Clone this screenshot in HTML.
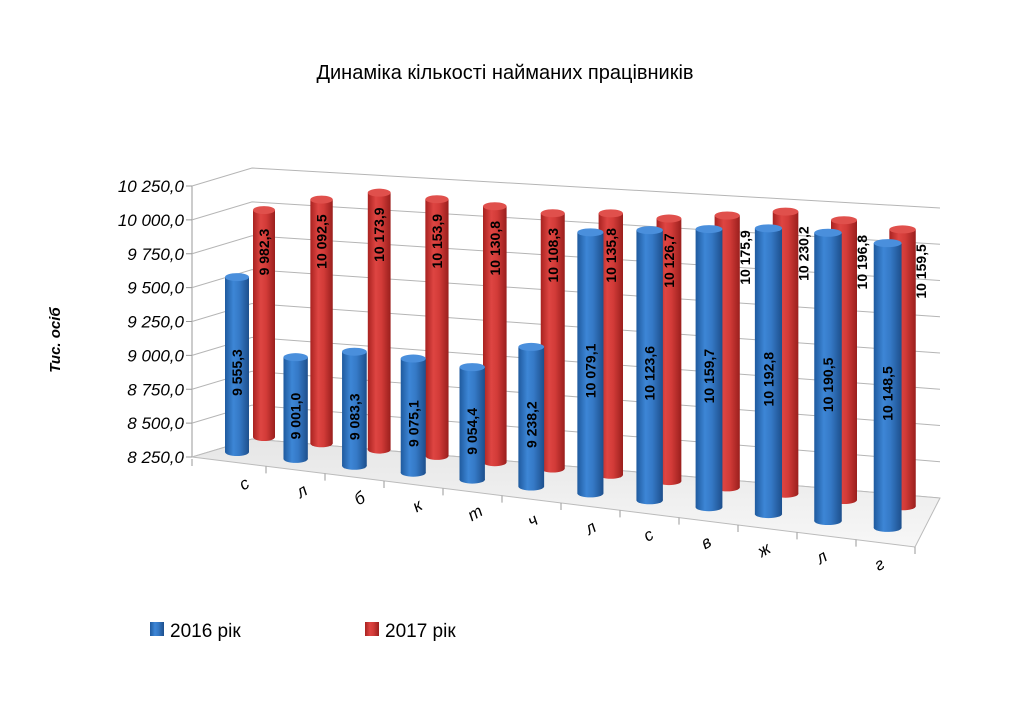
<!DOCTYPE html>
<html><head><meta charset="utf-8">
<style>
html,body{margin:0;padding:0;background:#fff;}
svg{display:block;}
text{font-family:"Liberation Sans",sans-serif;}
</style></head>
<body>
<svg id="chart" width="1024" height="709" viewBox="0 0 1024 709" xmlns="http://www.w3.org/2000/svg">
<defs>
 <linearGradient id="gBlue" x1="0" x2="1" y1="0" y2="0">
  <stop offset="0" stop-color="#1f5a9e"/><stop offset="0.35" stop-color="#3d86d6"/><stop offset="0.6" stop-color="#3579c6"/><stop offset="1" stop-color="#1d4f8c"/>
 </linearGradient>
 <linearGradient id="gRed" x1="0" x2="1" y1="0" y2="0">
  <stop offset="0" stop-color="#a82220"/><stop offset="0.35" stop-color="#de4542"/><stop offset="0.6" stop-color="#d23b38"/><stop offset="1" stop-color="#9a1f1d"/>
 </linearGradient>
 <linearGradient id="gFloor" x1="0" x2="0" y1="0" y2="1">
  <stop offset="0" stop-color="#e6e6e6"/><stop offset="1" stop-color="#f7f7f7"/>
 </linearGradient>
</defs>
<text x="505" y="79" font-size="20" text-anchor="middle" fill="#000">Динаміка кількості найманих працівників</text>
<text transform="translate(60,340) rotate(-90)" font-size="15" font-weight="bold" font-style="italic" text-anchor="middle">Тис. осіб</text>
<g id="grid"></g>
<g id="floor"></g>
<g id="bars"></g>
<g id="xlabels"></g>
<g>
 <g>
  <rect x="150" y="622" width="14" height="14" fill="url(#gBlue)"/>
  <text x="170" y="637" font-size="19" fill="#000">2016 рік</text>
 </g>
 <g>
  <rect x="365" y="622" width="14" height="14" fill="url(#gRed)"/>
  <text x="385" y="637" font-size="19" fill="#000">2017 рік</text>
 </g>
</g>
</svg>
<script>
const categories = ["с","л","б","к","т","ч","л","с","в","ж","л","г"];
const values2016 = [9555.3,9001.0,9083.3,9075.1,9054.4,9238.2,10079.1,10123.6,10159.7,10192.8,10190.5,10148.5];
const values2017 = [9982.3,10092.5,10173.9,10153.9,10130.8,10108.3,10135.8,10126.7,10175.9,10230.2,10196.8,10159.5];
const yTicks = [8250,8500,8750,9000,9250,9500,9750,10000,10250];

const NS = "http://www.w3.org/2000/svg";
const yMin = 8250;
function mk(tag, attrs, parent){const e=document.createElementNS(NS,tag);for(const k in attrs)e.setAttribute(k,attrs[k]);parent.appendChild(e);return e;}
function fmt(v){let s=v.toFixed(1).replace('.',',');let [a,b]=s.split(',');if(a.length>3)a=a.slice(0,a.length-3)+' '+a.slice(-3);return a+','+b;}

// axis functions
const n = categories.length;
function leftY(v){return 457-(v-yMin)*0.1355;}
function cornerY(v){return leftY(v)-18;}
function rightY(v){return 498-(v-yMin)*0.145;}
function blueX(i){return 237+i*58.6+i*i*0.05;}
function redX(i){return 264+i*57.5+i*i*0.05;}
function blueBase(i){return 452+i*6.9;}
function redBase(i){return 437+i*6.3;}
function blueScale(i){return 0.134+i*(0.016/(n-1));}
function redScale(i){return 0.131+i*(0.014/(n-1));}

// grid
const grid=document.getElementById('grid');
mk('line',{x1:192,y1:leftY(yMin),x2:192,y2:leftY(10250),stroke:'#999','stroke-width':1},grid);
yTicks.forEach(v=>{
  const g=mk('g',{},grid);
  
  
  mk('polyline',{points:`192,${leftY(v)} 252,${cornerY(v)} 940,${rightY(v)}`,fill:'none',stroke:'#b5b5b5','stroke-width':1},g);
  mk('line',{x1:186,y1:leftY(v),x2:192,y2:leftY(v),stroke:'#999'},g);
  const t=mk('text',{x:184,y:leftY(v)+6,'font-size':17,'font-style':'italic','text-anchor':'end',fill:'#000'},g);
  
  
  t.textContent=fmt(v);
});

// floor
const floor=document.getElementById('floor');
const fl=mk('polygon',{points:`192,457 252,439 940,498 915,547`,fill:'url(#gFloor)',stroke:'#bbb','stroke-width':1},floor);


for(let i=0;i<=n;i++){
  const t=i/n, x=207+t*(915-207)+(i===0?-15*(1-t):0), y=459+t*(547-459);
  mk('line',{x1:x,y1:y,x2:x,y2:y+7,stroke:'#999'},floor);
}

// cylinders
const bars=document.getElementById('bars');
function cyl(cx,base,top,w,fill,capColor,name){
  const g=mk('g',{},bars);
  
  
  const ry=4;
  mk('ellipse',{cx:cx,cy:base,rx:w/2,ry:ry,fill:fill},g);
  mk('rect',{x:cx-w/2,y:top,width:w,height:base-top,fill:fill},g);
  mk('ellipse',{cx:cx,cy:top,rx:w/2,ry:ry,fill:capColor},g);
  return g;
}
function label(x,y,txt,name){
  const t=mk('text',{transform:`translate(${x},${y}) rotate(-90)`,'font-family':'Liberation Serif','font-size':14,'font-weight':'bold','text-anchor':'middle',fill:'#000'},bars);
  
  
  t.textContent=fmt(txt);
}
for(let i=0;i<n;i++){
  const x=redX(i), b=redBase(i), top=b-(values2017[i]-yMin)*redScale(i), w=22+i*0.4;
  cyl(x,b,top,w,'url(#gRed)','#e0504c','bar-2017-'+i);
  const lx = i>=8 ? x+w/2+10 : x+5;
  label(lx, top+42, values2017[i], 'value-label-2017-'+i);
}
for(let i=0;i<n;i++){
  const x=blueX(i), b=blueBase(i), top=b-(values2016[i]-yMin)*blueScale(i), w=24+i*0.35;
  cyl(x,b,top,w,'url(#gBlue)','#4a8fdc','bar-2016-'+i);
  label(x+5,(top+b)/2+8,values2016[i],'value-label-2016-'+i);
}

// x labels
const xl=document.getElementById('xlabels');
categories.forEach((c,i)=>{
  const t0=(i+0.5)/n;
  const x=222+t0*(915-222)-4, y=459+t0*(547-459)+26;
  const t=mk('text',{transform:`translate(${x},${y}) rotate(-30)`,'font-family':'Liberation Serif','font-size':17,'font-style':'italic','text-anchor':'middle',fill:'#000'},xl);
  
  
  t.textContent=c;
});
</script>
</body></html>
